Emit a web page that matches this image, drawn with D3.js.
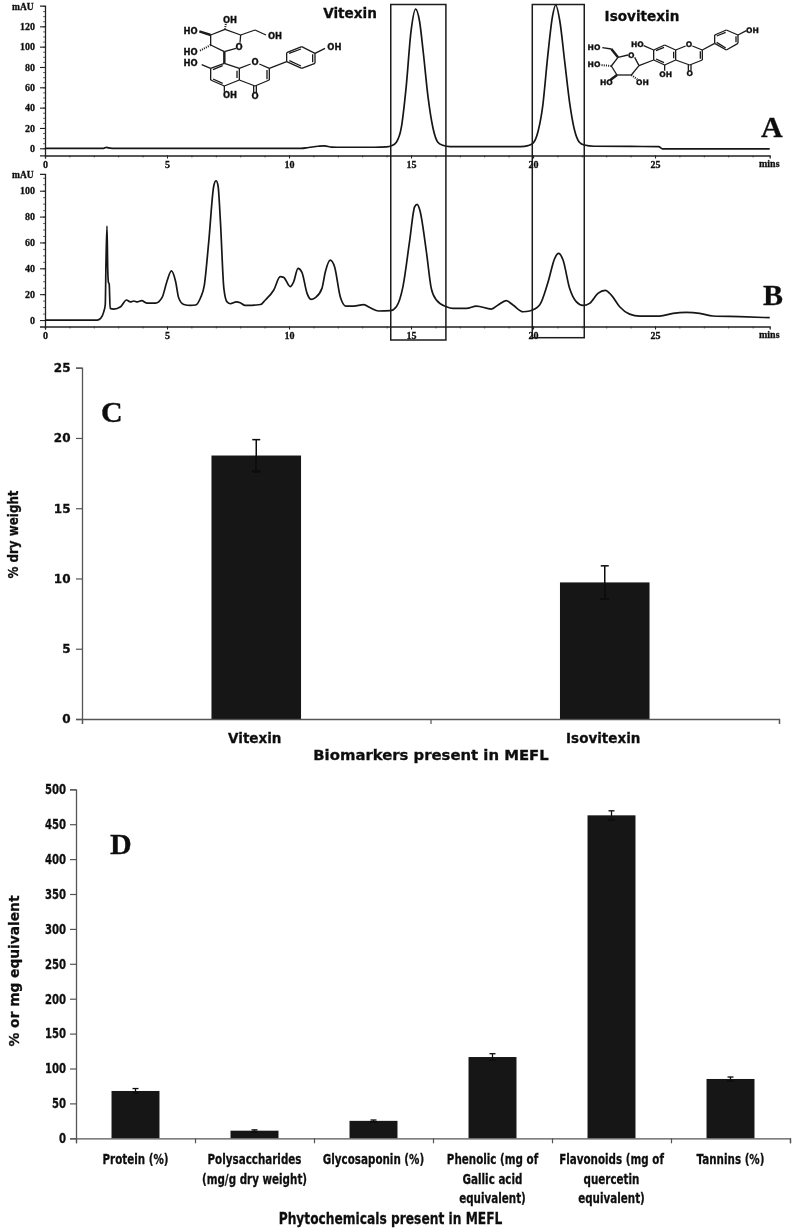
<!DOCTYPE html>
<html>
<head>
<meta charset="utf-8">
<script src="https://cdnjs.cloudflare.com/ajax/libs/d3/7.8.5/d3.min.js"></script>
<style>
html,body{margin:0;padding:0;background:#fff;}
svg{display:block;}
text{fill:#111;stroke:#111;stroke-width:0.3px;}
</style>
</head>
<body>
<svg id="fig" width="793" height="1230">
  <defs><filter id="soft" x="0" y="0" width="793" height="1230" filterUnits="userSpaceOnUse"><feGaussianBlur stdDeviation="0.35"/></filter></defs>
</svg>
<script>
// ---------- Chromatogram A (standards) ----------
const timesA = [0,2.4,2.52,2.6,2.75,6.7,10.5,10.8,11.2,11.45,11.75,12.2,13.5,14.0,14.2,14.4,14.6,14.8,15.0,15.19,15.35,15.5,15.7,15.9,16.1,16.3,16.6,19.5,19.8,20.0,20.2,20.4,20.6,20.8,20.93,21.1,21.3,21.5,21.7,21.9,22.1,22.5,24,25.15,25.3,29.7];
const mauA   = [0,0,0.9,0.4,0,0,0,0.8,2,2.4,1.2,1,1,1.3,2.4,6,20,60,115,137,125,95,50,20,6,3,1.6,1.6,2.6,5,16,42,90,130,141,125,85,45,18,6,3.2,2,1.8,1.6,-0.5,-0.6];
// ---------- Chromatogram B (MEFL extract) ----------
const timesB = [0,2.14,2.28,2.41,2.47,2.5,2.54,2.57,2.6,2.63,2.67,2.82,3.1,3.34,3.5,3.64,3.78,3.96,4.19,4.53,4.8,5.0,5.18,5.35,5.48,5.69,5.96,6.17,6.37,6.53,6.71,6.92,7.01,7.09,7.19,7.33,7.46,7.6,7.84,8,8.2,8.83,9.03,9.37,9.64,9.78,10.05,10.19,10.37,10.53,10.74,10.9,11.08,11.35,11.49,11.69,11.87,12.1,12.33,12.65,13.06,13.33,13.67,14.15,14.4,14.67,14.94,15.15,15.25,15.36,15.63,15.83,16.04,16.45,16.72,17.27,17.68,18.29,18.57,18.9,19.18,19.59,19.86,20.27,20.62,20.89,21.05,21.23,21.5,21.77,22.05,22.32,22.66,22.96,23.21,23.55,23.96,24.37,25.19,25.74,26.28,26.83,27.38,28.47,29.7];
const mauB   = [0,0,1.3,6.5,12,45,72.7,40,29,28,9,8.5,10.3,15.5,14,14.7,14,15,13,13,17.5,30,38,30,17,12,11.3,11.6,17,27,60.5,104,107.7,104,76,24.5,14,12.6,14,13.4,11.3,12,15.5,23,33.5,33,25.8,29.6,40,36.9,20.6,16,17.3,24.5,37.4,46.4,41,18,10.8,10.8,11.9,9.5,7,7.2,10.3,25.8,60.6,87.6,89.4,85,52.8,24.5,15.5,10.3,9,9,10.8,8.5,11.6,15,11.6,6.4,7,11.6,29.6,47.7,51.5,46.4,24.5,14.2,11.3,12.9,20.6,23,19.3,10.3,4.6,3.1,3.1,5.2,5.9,5.2,3.1,2.6,1.8];
const chromXTicks = [0,5,10,15,20,25];
const chromYTicksA = [0,20,40,60,80,100,120];
const chromYTicksB = [0,20,40,60,80,100];
const peakWindows = [[14.17,16.43],[19.97,22.1]];
// ---------- Panel C ----------
const biomarkers = ["Vitexin","Isovitexin"];
const biomarkerValues = [18.75,9.72];
const biomarkerErrors = [1.13,1.18];
const biomarkerTicks = [0,5,10,15,20,25];
// ---------- Panel D ----------
const phytochemicals = [
  ["Protein (%)"],
  ["Polysaccharides","(mg/g dry weight)"],
  ["Glycosaponin (%)"],
  ["Phenolic (mg of","Gallic acid","equivalent)"],
  ["Flavonoids (mg of","quercetin","equivalent)"],
  ["Tannins (%)"]
];
const phytoValues = [67.8,10.9,25,116.4,462.7,85];
const phytoErrors = [3.5,1.2,1.2,4.8,6.5,2.8];
const phytoTicks = [0,50,100,150,200,250,300,350,400,450,500];

// ---------- Molecule sketches (atom positions on a 1200-wide drawing grid) ----------
const vitexinBonds = [
 [673,190,718,205],[718,205,718,240],[718,240,673,258],[673,258,632,240],[632,240,632,205],[632,205,673,190],
 [711,212,711,234],[668,250,639,237],[639,209,668,197],
 [718,205,752,192],[778,192,808,205],[808,205,808,240],[808,240,765,258],[765,258,718,240],[801,238,801,210],
 [761,258,761,278],[769,258,769,278],
 [808,205,860,185],[860,185,860,158],[860,158,905,140],[905,140,945,160],[945,160,945,190],[945,190,905,205],[905,205,860,185],
 [867,160,903,147],[938,163,938,187],[903,198,868,182],[945,160,975,145],
 [673,155,632,135],[632,135,632,105],[632,105,675,88],[675,88,722,105],[722,105,720,128],[708,145,673,155],
 [722,105,765,90],[765,90,798,105],[632,205,605,194],[673,258,673,275]
];
const vitexinBold = [[673,155,673,190],[632,105,598,94]];
const vitexinHash = [[632,135,598,153],[675,88,678,68]];
const vitexinAtoms = [
 ["OH",690,60],["HO",572,92],["OH",825,107],["HO",572,156],["O",717,140],["OH",1003,140],
 ["HO",572,190],["O",765,187],["OH",690,286],["O",765,287]
];
const isovitexinBonds = [
 [782,150,815,135],[815,135,848,150],[848,150,848,180],[848,180,815,195],[815,195,782,180],[782,180,782,150],
 [789,152,813,142],[842,155,842,175],[813,188,789,177],
 [848,150,878,138],[898,138,928,150],[928,150,928,180],[928,180,890,195],[890,195,848,180],[922,176,922,154],
 [886,195,886,212],[894,195,894,212],
 [928,150,965,130],[965,130,965,105],[965,105,1000,90],[1000,90,1035,105],[1035,105,1035,130],[1035,130,1000,150],[1000,150,965,130],
 [971,108,998,97],[1029,109,1029,127],[998,144,971,127],[1035,105,1060,92],
 [782,180,738,197],[738,197,725,172],[705,165,675,172],[675,172,655,198],[655,198,672,225],[672,225,715,225],[715,225,738,197],
 [675,172,655,147],[655,147,628,143],[782,150,752,137],[815,195,815,212]
];
const isovitexinBold = [[655,147,675,172],[672,225,652,240]];
const isovitexinHash = [[655,198,622,195],[715,225,733,238]];
const isovitexinAtoms = [
 ["HO",603,143],["O",715,166],["HO",603,194],["HO",640,246],["OH",748,246],
 ["HO",733,133],["O",888,133],["OH",818,222],["O",890,220],["OH",1078,90]
];

const svg = d3.select("#fig").append("g").attr("filter","url(#soft)");
svg.append("rect").attr("width",793).attr("height",1230).attr("fill","#fff");
const SANS = "'DejaVu Sans',Verdana,sans-serif";
const SERIF = "'Liberation Serif','Times New Roman',serif";

function label(parent, txt, x, y, opts={}){
  const sq = opts.squeeze||1;
  const rot = opts.rotate ? ` rotate(${opts.rotate})` : "";
  return parent.append("text").attr("x",0).attr("y",0)
    .attr("transform",`translate(${x},${y})${rot} scale(${sq},1)`)
    .attr("text-anchor",opts.anchor||"middle").attr("dominant-baseline","central")
    .style("font-family",opts.family||SANS).style("font-weight","bold")
    .style("font-size",(opts.size||12)+"px").text(txt);
}

// ---------- Chromatograms ----------
const xChrom = d3.scaleLinear().domain([0,29.7]).range([45,769.7]);
const lineStroke = "#161616";
function chromatogram(times, values, yScale, yTicks, mausY, axisY){
  const g = svg.append("g");
  const x0 = xChrom.range()[0];
  const minorX = d3.axisBottom(xChrom).tickValues(d3.range(0,30)).tickSize(2).tickFormat("");
  const gMinX = g.append("g").attr("transform",`translate(0,${axisY})`).call(minorX);
  const ydom = yScale.domain();
  const minorY = d3.axisLeft(yScale).tickValues(d3.range(0,ydom[1],5)).tickSize(2).tickFormat("");
  const gMinY = g.append("g").attr("transform",`translate(${x0},0)`).call(minorY);
  [gMinX,gMinY].forEach(s=>{s.selectAll("path").remove();s.selectAll("line").attr("stroke","#444").attr("stroke-width",0.8);});
  const ax = d3.axisBottom(xChrom).tickValues(chromXTicks).tickSize(3).tickPadding(2).tickFormat(d3.format("d"));
  const gx = g.append("g").attr("transform",`translate(0,${axisY})`).call(ax);
  const ay = d3.axisLeft(yScale).tickValues(yTicks).tickSize(5).tickPadding(5).tickFormat(d3.format("d"));
  const gy = g.append("g").attr("transform",`translate(${x0},0)`).call(ay);
  [gx,gy].forEach(s=>{
    s.selectAll("path").attr("stroke","#222").attr("stroke-width",1.3);
    s.selectAll("line").attr("stroke","#222").attr("stroke-width",1.1);
    s.selectAll("text").style("font-family",SERIF).style("font-weight","bold").style("font-size","10px");
  });
  label(g,"mAU",12,mausY,{anchor:"start",family:SERIF,size:9.5});
  label(g,"mins",759,axisY+8,{anchor:"start",family:SERIF,size:10});
  const line = d3.line().x((d,i)=>xChrom(times[i])).y(d=>yScale(d)).curve(d3.curveMonotoneX);
  g.append("path").attr("d",line(values)).attr("fill","none").attr("stroke",lineStroke).attr("stroke-width",1.7).attr("stroke-linejoin","round");
}
const yA = d3.scaleLinear().domain([-7,140.4]).range([155.4,5.6]);
const yB = d3.scaleLinear().domain([-5,113]).range([326.5,173.9]);
chromatogram(timesA,mauA,yA,chromYTicksA,6.7,155.5);
chromatogram(timesB,mauB,yB,chromYTicksB,175,326.5);

const boxBottoms = [340,337.7];
peakWindows.forEach((w,i)=>{
  svg.append("rect").attr("x",xChrom(w[0])).attr("y",4.5)
    .attr("width",xChrom(w[1])-xChrom(w[0])).attr("height",boxBottoms[i]-4.5)
    .attr("fill","none").attr("stroke","#1c1c1c").attr("stroke-width",1.5);
});

function molecule(bonds,bold,hash,atoms,ox,size){
  const sx = d3.scaleLinear().domain([0,1200]).range([ox,ox+400]);
  const sy = d3.scaleLinear().domain([0,1200]).range([0,400]);
  const g = svg.append("g");
  const draw = (arr,w,dash)=>g.selectAll(null).data(arr).enter().append("line")
    .attr("x1",d=>sx(d[0])).attr("y1",d=>sy(d[1])).attr("x2",d=>sx(d[2])).attr("y2",d=>sy(d[3]))
    .attr("stroke","#1a1a1a").attr("stroke-width",w).attr("stroke-dasharray",dash);
  draw(bonds,1.3,null);
  draw(bold,2.4,null);
  draw(hash,2,"1,1.2");
  atoms.forEach(a=>label(g,a[0],sx(a[1]),sy(a[2]),{size:size}));
}
molecule(vitexinBonds,vitexinBold,vitexinHash,vitexinAtoms,0,8.4);
molecule(isovitexinBonds,isovitexinBold,isovitexinHash,isovitexinAtoms,393,7.6);
label(svg,"Vitexin",350,13,{size:13.6});
label(svg,"Isovitexin",642,16,{size:13.6});

const letters = [["A",761,126],["B",763,294],["C",101,411],["D",110,843.5]];
letters.forEach(l=>label(svg,l[0],l[1],l[2],{anchor:"start",family:SERIF,size:30}));

// ---------- Bar panels ----------
function barPanel(cfg){
  const g = svg.append("g");
  const x = d3.scaleBand().domain(d3.range(cfg.values.length)).range(cfg.xr).paddingInner(cfg.padding).paddingOuter(cfg.padding/2);
  const y = d3.scaleLinear().domain([0,cfg.max]).range(cfg.yr);
  g.selectAll(".bar").data(cfg.values).enter().append("rect")
    .attr("x",(d,i)=>x(i)).attr("y",d=>y(d)).attr("width",x.bandwidth()).attr("height",d=>y(0)-y(d)).attr("fill","#141414");
  const cx = i=>x(i)+x.bandwidth()/2;
  cfg.values.forEach((v,i)=>{
    const e = cfg.errors[i];
    const eg = g.append("g").attr("stroke","#0a0a0a").attr("stroke-width",cfg.errW);
    eg.append("line").attr("x1",cx(i)).attr("x2",cx(i)).attr("y1",y(v+e)).attr("y2",y(v-e));
    [v+e,v-e].forEach(k=>eg.append("line").attr("x1",cx(i)-cfg.cap).attr("x2",cx(i)+cfg.cap).attr("y1",y(k)).attr("y2",y(k)));
  });
  const ay = d3.axisLeft(y).tickValues(cfg.ticks).tickSize(6).tickPadding(cfg.tp).tickFormat(d3.format("d"));
  const gy = g.append("g").attr("transform",`translate(${cfg.xr[0]},0)`).call(ay);
  gy.selectAll("path").attr("stroke","#555").attr("stroke-width",1.3);
  gy.selectAll("line").attr("stroke","#555").attr("stroke-width",1.2);
  gy.selectAll("text").style("font-family",SANS).style("font-weight","bold").style("font-size",cfg.tickSize+"px");
  if(cfg.squeeze) gy.selectAll("text").each(function(){
    const t=d3.select(this), px=+t.attr("x");
    t.attr("x",0).attr("transform",`translate(${px},0) scale(${cfg.squeeze},1)`);
  });
  const edges = d3.scaleLinear().domain([0,cfg.values.length]).range(cfg.xr);
  const ax = d3.axisBottom(edges).tickValues(d3.range(0,cfg.values.length+1)).tickSize(5).tickFormat("");
  const gx = g.append("g").attr("transform",`translate(0,${cfg.yr[0]})`).call(ax);
  gx.selectAll("path").attr("stroke","#555").attr("stroke-width",1.3);
  gx.selectAll("line").attr("stroke","#555").attr("stroke-width",1.2);
  cfg.labels.forEach((lines,i)=>{
    lines.forEach((t,j)=>label(g,t,cx(i)+cfg.labelDx,cfg.labelY[j],{size:cfg.catSize,squeeze:cfg.catSqueeze}));
  });
}

barPanel({values:biomarkerValues,errors:biomarkerErrors,labels:biomarkers.map(d=>[d]),
  ticks:biomarkerTicks,max:25,xr:[82,779],yr:[719,367.7],padding:0.743,errW:1.5,cap:4,tp:5.5,
  tickSize:12,catSize:13.5,labelY:[738],labelDx:-1.5,catSqueeze:1});
label(svg,"% dry weight",13.5,534.5,{size:14,rotate:-90,squeeze:0.85});
label(svg,"Biomarkers present in MEFL",431,755,{size:13.5,squeeze:1.1});

barPanel({values:phytoValues,errors:phytoErrors,labels:phytochemicals,
  ticks:phytoTicks,max:500,xr:[76,790],yr:[1138.3,789.3],padding:0.597,errW:1.3,cap:3,tp:4,
  tickSize:13.5,squeeze:0.75,catSize:14,catSqueeze:0.74,labelY:[1159.5,1179.5,1198.5],labelDx:0});
label(svg,"% or mg equivalent",13.5,971,{size:14.5,rotate:-90,squeeze:0.95});
label(svg,"Phytochemicals present in MEFL",390.5,1218,{size:15.5,squeeze:0.79});
</script>
</body>
</html>
